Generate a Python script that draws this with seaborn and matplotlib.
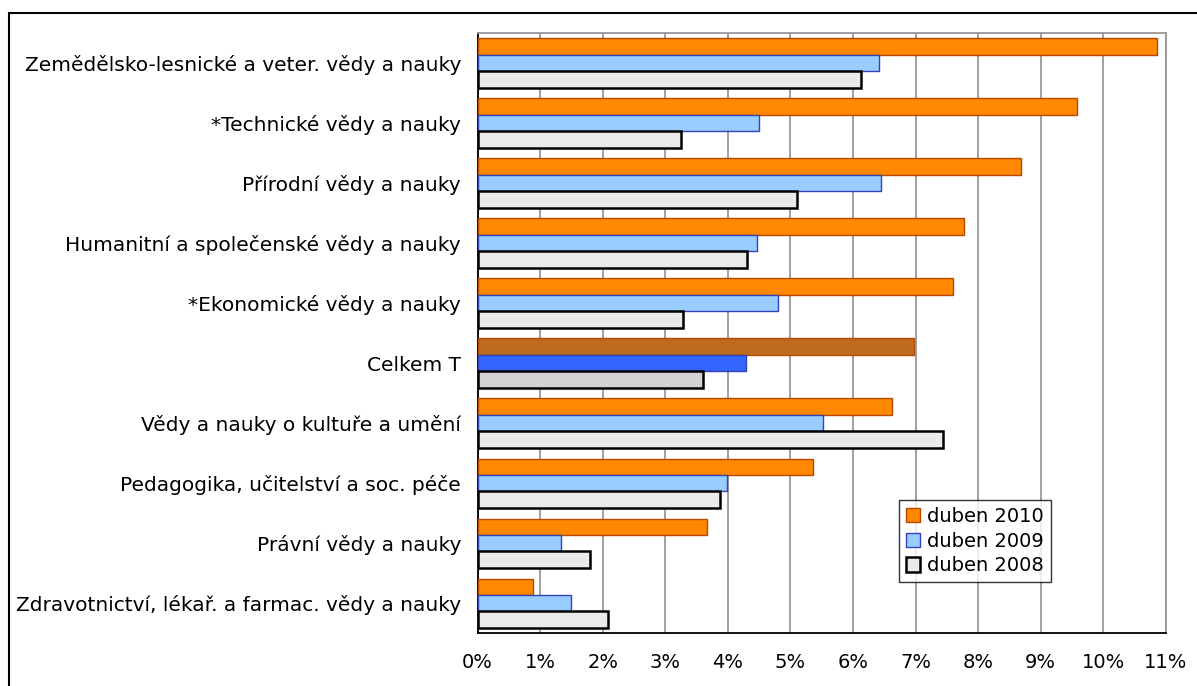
import numpy as np
import pandas as pd
import matplotlib.pyplot as plt
import seaborn as sns
from matplotlib.patches import Rectangle
from matplotlib.ticker import FuncFormatter

categories = [
    "Zemědělsko-lesnické a veter. vědy a nauky",
    "*Technické vědy a nauky",
    "Přírodní vědy a nauky",
    "Humanitní a společenské vědy a nauky",
    "*Ekonomické vědy a nauky",
    "Celkem T",
    "Vědy a nauky o kultuře a umění",
    "Pedagogika, učitelství a soc. péče",
    "Právní vědy a nauky",
    "Zdravotnictví, lékař. a farmac. vědy a nauky",
]
series = ["duben 2010", "duben 2009", "duben 2008"]
val_2010 = [10.86, 9.58, 8.69, 7.78, 7.60, 6.97, 6.62, 5.36, 3.66, 0.89]
val_2009 = [6.41, 4.50, 6.44, 4.47, 4.80, 4.29, 5.52, 3.99, 1.34, 1.49]
val_2008 = [6.12, 3.25, 5.11, 4.30, 3.28, 3.61, 7.43, 3.88, 1.79, 2.09]

df = pd.DataFrame({
    "obor": categories * 3,
    "rok": np.repeat(series, len(categories)),
    "hodnota": val_2010 + val_2009 + val_2008,
})

# colours: normal bars and the highlighted total row
face = ["#FF8800", "#99CCFF", "#EAEAEA"]
edge = ["#B84A00", "#3344BB", "#000000"]
edge_w = [1.0, 1.0, 1.8]
total_face = ["#BD6B1F", "#3366FF", "#D3D3D3"]
total_idx = categories.index("Celkem T")

sns.set_style("white")
plt.rcParams['font.family'] = ['DejaVu Sans']
plt.rcParams['text.color'] = 'black'
plt.rcParams['xtick.color'] = 'black'
plt.rcParams['ytick.color'] = 'black'

fig = plt.figure(figsize=(11.97, 6.86), dpi=100)
ax = fig.add_axes([0.399, 0.077, 0.575, 0.875])

sns.barplot(data=df, y="obor", x="hodnota", hue="rok", hue_order=series,
            order=categories, orient="h", palette=face, saturation=1,
            width=0.82, legend=False, ax=ax, zorder=3)

for i, cont in enumerate(ax.containers):
    for j, bar in enumerate(cont):
        bar.set_edgecolor(edge[i])
        bar.set_linewidth(edge_w[i])
        if j == total_idx:
            bar.set_facecolor(total_face[i])

ax.set_xlim(0, 11)
ax.set_xticks(range(0, 12))
ax.xaxis.set_major_formatter(FuncFormatter(lambda v, p: f"{int(v)}%"))
ax.grid(axis="x", color="#999999", linewidth=1.3, zorder=0)
ax.set_axisbelow(True)

# y ticks between the categories, labels at the centres
ax.set_yticks(np.arange(-0.5, len(categories), 1.0), minor=False)
ax.set_yticklabels([])
ax.set_yticks(np.arange(len(categories)), minor=True)
ax.set_yticklabels(categories, minor=True)
ax.tick_params(axis="y", which="major", direction="out", length=7, width=1, color="black")
ax.tick_params(axis="y", which="minor", length=0, pad=12, labelsize=14.5, labelcolor="black")
ax.tick_params(axis="x", direction="out", length=6, width=1, labelsize=14, pad=8,
               labelcolor="black")
ax.set_ylim(len(categories) - 0.5, -0.5)

ax.set_xlabel("")
ax.set_ylabel("")
for s in ["left", "bottom"]:
    ax.spines[s].set_color("black")
    ax.spines[s].set_linewidth(1.3)
for s in ["top", "right"]:
    ax.spines[s].set_color("#999999")
    ax.spines[s].set_linewidth(1.3)

leg = ax.legend(ax.containers, series, loc="lower left", bbox_to_anchor=(0.612, 0.085),
                fontsize=14, frameon=True, fancybox=False, edgecolor="black",
                handlelength=0.75, handleheight=0.75, handletextpad=0.35,
                labelspacing=0.3, borderpad=0.35, borderaxespad=0)
leg.get_frame().set_linewidth(1.0)
for t in leg.get_texts():
    t.set_color("black")

# outer frame of the chart (cut by image edge)
fig.patches.append(Rectangle((9 / 1197, -0.05), 1.2, 1 - 13 / 686 + 0.05,
                             transform=fig.transFigure, fill=False,
                             edgecolor="black", linewidth=1.5, clip_on=False))

fig.savefig("out.png", dpi=100)
